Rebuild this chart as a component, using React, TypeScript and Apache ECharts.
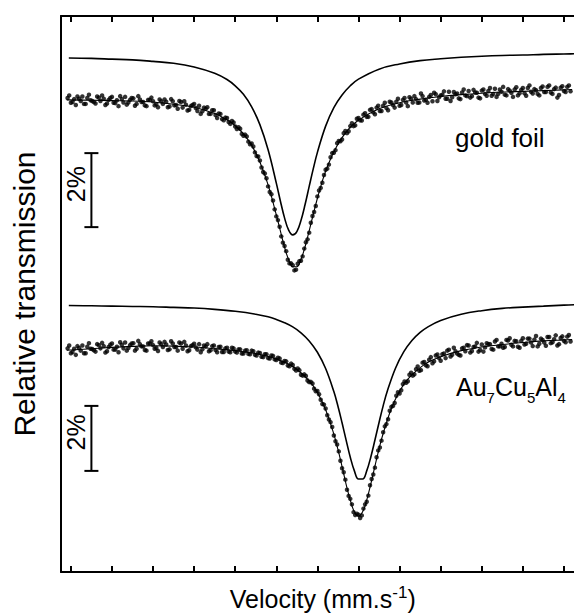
import React, { useEffect, useRef } from 'react';
import * as echarts from 'echarts';

// ---- data (velocity in mm/s, relative transmission in %) ----
// two interleaved channel sets (even / odd channels)
const VEL_START_A = -6.08;
const VEL_START_B = -6.04;
const VEL_STEP = 0.08;

const goldDotsA = [
  100.00, 99.87, 99.97, 100.04, 99.92, 99.84, 100.00, 99.94, 99.89, 100.04,
  99.92, 99.98, 99.85, 100.00, 99.87, 99.94, 100.05, 99.88, 99.82, 99.95,
  99.99, 99.84, 99.96, 99.89, 99.78, 99.95, 99.91, 99.83, 99.96, 99.84,
  99.90, 99.77, 99.91, 99.81, 99.92, 99.74, 99.82, 99.68, 99.81, 99.73,
  99.79, 99.64, 99.71, 99.57, 99.67, 99.54, 99.58, 99.43, 99.47, 99.35,
  99.38, 99.23, 99.21, 99.03, 99.01, 98.82, 98.77, 98.53, 98.42, 98.12,
  97.96, 97.61, 97.40, 96.99, 96.70, 96.26, 96.00, 95.63, 95.53, 95.34,
  95.52, 95.60, 95.93, 96.18, 96.63, 96.92, 97.34, 97.57, 97.92, 98.09,
  98.40, 98.52, 98.78, 98.83, 99.05, 99.05, 99.24, 99.24, 99.44, 99.40,
  99.55, 99.49, 99.68, 99.61, 99.74, 99.65, 99.79, 99.73, 99.90, 99.81,
  99.90, 99.79, 99.95, 99.88, 100.02, 99.88, 99.97, 99.88, 100.05, 99.95,
  100.03, 99.91, 100.10, 100.02, 100.09, 99.98, 100.17, 100.02, 100.10, 99.99,
  100.15, 100.07, 100.19, 100.05, 100.15, 100.01, 100.20, 100.11, 100.19, 100.06,
  100.25, 100.11, 100.17, 100.09, 100.24, 100.14, 100.23, 100.07, 100.22, 100.13,
  100.27, 100.17, 100.24, 100.11, 100.27, 100.16, 100.30, 100.15, 100.24, 100.01,
  100.28, 100.19, 100.30, 100.18,
];

const goldDotsB = [
  100.07, 99.89, 99.81, 99.98, 100.04, 99.84, 100.09, 99.92, 99.85, 100.01,
  100.07, 99.81, 99.95, 100.03, 99.86, 99.78, 99.97, 100.03, 99.88, 100.00,
  99.79, 100.05, 99.89, 99.80, 99.95, 100.01, 99.80, 99.75, 99.91, 99.96,
  99.75, 99.97, 99.80, 99.71, 99.89, 99.91, 99.66, 99.78, 99.84, 99.65,
  99.57, 99.74, 99.75, 99.57, 99.67, 99.46, 99.57, 99.40, 99.46, 99.30,
  99.34, 99.16, 99.17, 98.98, 98.96, 98.75, 98.69, 98.43, 98.31, 98.00,
  97.83, 97.46, 97.23, 96.80, 96.52, 96.09, 95.86, 95.53, 95.48, 95.36,
  95.59, 95.72, 96.10, 96.36, 96.81, 97.08, 97.50, 97.71, 98.06, 98.20,
  98.51, 98.59, 98.84, 98.88, 99.11, 99.10, 99.32, 99.26, 99.46, 99.39,
  99.59, 99.49, 99.70, 99.56, 99.79, 99.65, 99.87, 99.67, 99.88, 99.74,
  99.98, 99.81, 100.00, 99.78, 99.98, 100.05, 99.87, 100.12, 99.93, 99.87,
  100.08, 100.14, 99.92, 100.07, 100.18, 99.98, 99.92, 100.16, 100.12, 99.97,
  100.23, 100.05, 100.01, 100.22, 100.14, 99.99, 100.23, 100.06, 100.27, 100.11,
  100.03, 100.23, 100.30, 100.07, 100.20, 100.03, 100.29, 100.13, 100.27, 100.06,
  100.34, 100.12, 100.21, 100.07, 100.31, 100.16, 100.34, 100.11, 100.28, 100.08,
  100.32, 100.16, 100.34,
];

const alloyDotsA = [
  100.05, 99.90, 100.04, 100.12, 99.98, 99.90, 100.10, 100.04, 99.99, 100.18,
  100.05, 100.12, 99.96, 100.16, 100.01, 100.10, 100.24, 100.05, 99.98, 100.15,
  100.21, 100.04, 100.18, 100.11, 99.98, 100.20, 100.15, 100.06, 100.23, 100.09,
  100.17, 100.02, 100.20, 100.09, 100.23, 100.04, 100.14, 99.99, 100.15, 100.08,
  100.18, 100.02, 100.11, 99.96, 100.12, 100.00, 100.09, 99.94, 100.05, 99.95,
  100.07, 99.95, 100.02, 99.89, 99.98, 99.88, 99.98, 99.85, 99.92, 99.79,
  99.87, 99.75, 99.83, 99.71, 99.76, 99.61, 99.66, 99.52, 99.58, 99.42,
  99.43, 99.24, 99.25, 99.06, 99.02, 98.81, 98.74, 98.47, 98.32, 97.99,
  97.78, 97.37, 97.09, 96.59, 96.24, 95.70, 95.42, 95.01, 94.96, 94.83,
  95.12, 95.33, 95.84, 96.17, 96.70, 97.00, 97.47, 97.72, 98.13, 98.28,
  98.59, 98.66, 98.95, 98.99, 99.24, 99.21, 99.41, 99.36, 99.61, 99.53,
  99.70, 99.59, 99.83, 99.75, 99.87, 99.75, 100.01, 99.85, 99.96, 99.85,
  100.05, 99.96, 100.14, 99.97, 100.11, 99.95, 100.17, 100.08, 100.18, 100.03,
  100.26, 100.11, 100.19, 100.09, 100.29, 100.16, 100.28, 100.10, 100.28, 100.17,
  100.35, 100.23, 100.32, 100.11, 100.35, 100.23, 100.40, 100.21, 100.33, 100.14,
  100.37, 100.28, 100.41, 100.26,
];

const alloyDotsB = [
  100.14, 99.94, 99.85, 100.06, 100.14, 99.90, 100.21, 100.03, 99.95, 100.15,
  100.22, 99.92, 100.09, 100.20, 100.01, 99.93, 100.16, 100.23, 100.06, 100.20,
  99.98, 100.28, 100.11, 100.00, 100.20, 100.27, 100.04, 99.97, 100.18, 100.25,
  100.00, 100.27, 100.09, 99.98, 100.20, 100.25, 99.96, 100.12, 100.19, 100.01,
  99.93, 100.14, 100.18, 99.99, 100.14, 99.93, 100.10, 99.94, 100.07, 99.93,
  100.05, 99.92, 100.02, 99.89, 99.99, 99.87, 99.96, 99.83, 99.91, 99.78,
  99.87, 99.74, 99.82, 99.69, 99.74, 99.60, 99.65, 99.50, 99.54, 99.37,
  99.38, 99.21, 99.20, 99.01, 98.97, 98.73, 98.64, 98.34, 98.20, 97.86,
  97.63, 97.19, 96.88, 96.36, 96.01, 95.51, 95.25, 94.92, 94.93, 94.91,
  95.25, 95.52, 96.03, 96.38, 96.91, 97.21, 97.65, 97.87, 98.25, 98.37,
  98.70, 98.76, 99.03, 99.04, 99.30, 99.25, 99.49, 99.38, 99.63, 99.50,
  99.78, 99.65, 99.86, 99.67, 99.89, 99.98, 99.80, 100.07, 99.89, 99.83,
  100.07, 100.15, 99.92, 100.09, 100.22, 100.00, 99.95, 100.21, 100.18, 100.01,
  100.31, 100.11, 100.07, 100.31, 100.36, 100.11, 100.27, 100.07, 100.36, 100.19,
  100.35, 100.12, 100.43, 100.19, 100.31, 100.13, 100.40, 100.24, 100.45, 100.18,
  100.42, 100.24, 100.46,
];

const goldFitVel = [-6.1, -5.5, -5, -4.5, -4, -3.5, -3, -2.5, -2.2, -2.0, -1.8, -1.6, -1.4, -1.2, -1.0, -0.9, -0.8, -0.7, -0.6, -0.5, -0.4, -0.3, -0.2, -0.1, 0, 0.1, 0.2, 0.4, 0.6, 0.8, 1.0, 1.5, 2.0, 2.5, 3, 3.5, 4, 4.5, 5, 5.5, 6, 6.2];
const goldFitVal = [99.95, 99.94, 99.93, 99.92, 99.89, 99.83, 99.75, 99.58, 99.41, 99.25, 99.03, 98.72, 98.27, 97.65, 96.84, 96.40, 95.97, 95.63, 95.44, 95.44, 95.64, 95.98, 96.41, 96.86, 97.29, 97.68, 98.02, 98.55, 98.93, 99.21, 99.40, 99.71, 99.87, 99.97, 100.04, 100.09, 100.13, 100.16, 100.18, 100.20, 100.22, 100.23];

const goldCalcVel = [-6.05, -5.5, -5, -4.5, -4, -3.5, -3, -2.5, -2.2, -2.0, -1.8, -1.6, -1.4, -1.2, -1.0, -0.9, -0.8, -0.7, -0.6, -0.5, -0.4, -0.3, -0.2, -0.1, 0, 0.2, 0.4, 0.6, 0.8, 1.0, 1.5, 2, 2.5, 3, 3.5, 4, 4.5, 5, 5.5, 6, 6.5];
const goldCalcVal = [101.08, 101.07, 101.05, 101.03, 100.99, 100.94, 100.84, 100.67, 100.50, 100.33, 100.10, 99.76, 99.28, 98.60, 97.70, 97.21, 96.76, 96.43, 96.30, 96.39, 96.69, 97.12, 97.61, 98.09, 98.53, 99.24, 99.74, 100.08, 100.33, 100.51, 100.78, 100.92, 101.01, 101.06, 101.10, 101.13, 101.15, 101.16, 101.18, 101.19, 101.20];

const alloyFitVel = [-6.1, -5.5, -5, -4.5, -4, -3.5, -3, -2.5, -2, -1.5, -1.0, -0.6, -0.2, 0, 0.2, 0.4, 0.5, 0.6, 0.7, 0.8, 0.9, 1.0, 1.1, 1.2, 1.3, 1.4, 1.5, 1.6, 1.8, 2.0, 2.2, 2.6, 3.0, 3.5, 4, 4.5, 5, 5.5, 6, 6.2];
const alloyFitVal = [99.99, 100.04, 100.08, 100.11, 100.13, 100.12, 100.09, 100.04, 99.98, 99.89, 99.72, 99.49, 99.05, 98.69, 98.16, 97.41, 96.94, 96.41, 95.86, 95.38, 95.02, 94.89, 95.02, 95.38, 95.88, 96.43, 96.96, 97.43, 98.20, 98.73, 99.10, 99.55, 99.79, 99.98, 100.09, 100.17, 100.23, 100.28, 100.31, 100.32];

const alloyCalcVel = [-6.05, -5.5, -5, -4.5, -4, -3.5, -3, -2.5, -2, -1.5, -1.2, -1.0, -0.8, -0.6, -0.4, -0.2, 0, 0.2, 0.4, 0.5, 0.6, 0.7, 0.8, 0.9, 1.0, 1.1, 1.2, 1.3, 1.4, 1.5, 1.6, 1.7, 1.9, 2.1, 2.3, 2.5, 2.7, 3.0, 3.5, 4, 4.5, 5, 5.5, 6, 6.5];
const alloyCalcVal = [101.37, 101.36, 101.35, 101.34, 101.33, 101.31, 101.29, 101.25, 101.19, 101.10, 101.02, 100.94, 100.84, 100.71, 100.53, 100.28, 99.93, 99.43, 98.72, 98.27, 97.76, 97.22, 96.70, 96.28, 96.03, 96.03, 96.28, 96.71, 97.23, 97.77, 98.28, 98.73, 99.44, 99.94, 100.29, 100.54, 100.72, 100.91, 101.10, 101.21, 101.28, 101.32, 101.35, 101.38, 101.40];

const tickVelocities = [-6, -5, -4, -3, -2, -1, 0, 1, 2, 3, 4, 5, 6];

// scale bars: [velocity, top %, bottom %] (2 % each)
const goldScaleBar = [[-5.5, 98.51, 96.51]];
const alloyScaleBar = [[-5.5, 98.28, 96.28]];
const scaleBarLabel = '2%';

const sampleLabels = ['gold foil', 'Au', '7', 'Cu', '5', 'Al', '4'];

const FONT = "'Liberation Sans', Arial, Helvetica, sans-serif";

function zip(xs: number[], ys: number[]) {
  return xs.map((x, i) => [x, ys[i]]);
}
function channels(start: number, ys: number[]) {
  return ys.map((y, i) => [Number((start + i * VEL_STEP).toFixed(2)), y]);
}

export default function App() {
  const ref = useRef<HTMLDivElement>(null);

  useEffect(() => {
    if (!ref.current) return;
    const chart = echarts.init(ref.current, null, { renderer: 'svg' });

    const scaleBarItem = (params: any, api: any) => {
      const top = api.coord([api.value(0), api.value(1)]);
      const bot = api.coord([api.value(0), api.value(2)]);
      const x = top[0];
      const cap = 7;
      const mid = (top[1] + bot[1]) / 2;
      const st = { stroke: '#000', lineWidth: 2 };
      return {
        type: 'group',
        children: [
          { type: 'line', shape: { x1: x, y1: top[1], x2: x, y2: bot[1] }, style: st },
          { type: 'line', shape: { x1: x - cap, y1: top[1], x2: x + cap, y2: top[1] }, style: st },
          { type: 'line', shape: { x1: x - cap, y1: bot[1], x2: x + cap, y2: bot[1] }, style: st },
          {
            type: 'text',
            x: x - 15,
            y: mid - 6,
            rotation: Math.PI / 2,
            style: {
              text: scaleBarLabel,
              fontSize: 25,
              fontFamily: FONT,
              fill: '#000',
              align: 'center',
              verticalAlign: 'middle',
            },
          },
        ],
      };
    };

    const lineStyleCurve = { color: '#000', width: 1.6 };
    const lineStyleFit = { color: '#000', width: 1.1 };
    const dotStyle = { color: '#000' };

    const xBase = {
      type: 'value',
      min: -6.24,
      max: 6.5,
      axisLine: { show: true, onZero: false, lineStyle: { color: '#000', width: 2 } },
      axisTick: {
        show: true,
        inside: true,
        length: 6,
        customValues: tickVelocities,
        lineStyle: { color: '#000', width: 2 },
      },
      axisLabel: { show: false },
      splitLine: { show: false },
    };

    const dots = (yAxisIndex: number, data: number[][]) => ({
      type: 'scatter',
      yAxisIndex,
      data,
      symbol: 'circle',
      symbolSize: 4.5,
      itemStyle: dotStyle,
      z: 4,
    });
    const curve = (yAxisIndex: number, data: number[][], lineStyle: any, z: number) => ({
      type: 'line',
      yAxisIndex,
      data,
      smooth: 0.4,
      symbol: 'none',
      lineStyle,
      z,
    });

    chart.setOption({
      animation: false,
      backgroundColor: '#fff',
      grid: {
        left: 61,
        top: 16,
        right: -10.5,
        bottom: 41,
        containLabel: false,
        outerBoundsMode: 'none',
      },
      xAxis: [
        {
          ...xBase,
          position: 'bottom',
          name: '{a|Velocity (mm.s}{b|-1}{a|)}',
          nameLocation: 'middle',
          nameGap: 14,
          nameTextStyle: {
            rich: {
              a: { fontSize: 25, lineHeight: 25, fontFamily: FONT, color: '#000' },
              b: { fontSize: 17, lineHeight: 25, padding: [0, 0, 12, 0], fontFamily: FONT, color: '#000' },
            },
          },
        },
        { ...xBase, position: 'top' },
      ],
      yAxis: [
        {
          type: 'value',
          min: 87.189,
          max: 102.216,
          position: 'left',
          axisLine: { show: true, onZero: false, lineStyle: { color: '#000', width: 2 } },
          axisTick: { show: false },
          axisLabel: { show: false },
          splitLine: { show: false },
          name: 'Relative transmission',
          nameLocation: 'middle',
          nameGap: 22,
          nameTextStyle: { fontSize: 30, fontFamily: FONT, color: '#000' },
        },
        {
          type: 'value',
          min: 93.169,
          max: 110.277,
          show: false,
          splitLine: { show: false },
        },
      ],
      series: [
        curve(0, zip(goldCalcVel, goldCalcVal), lineStyleCurve, 3),
        dots(0, channels(VEL_START_A, goldDotsA)),
        dots(0, channels(VEL_START_B, goldDotsB)),
        curve(0, zip(goldFitVel, goldFitVal), lineStyleFit, 5),
        curve(1, zip(alloyCalcVel, alloyCalcVal), lineStyleCurve, 3),
        dots(1, channels(VEL_START_A, alloyDotsA)),
        dots(1, channels(VEL_START_B, alloyDotsB)),
        curve(1, zip(alloyFitVel, alloyFitVal), lineStyleFit, 5),
        {
          type: 'custom',
          yAxisIndex: 0,
          renderItem: scaleBarItem,
          data: goldScaleBar,
          encode: { x: 0, y: [1, 2] },
          clip: false,
          silent: true,
        },
        {
          type: 'custom',
          yAxisIndex: 1,
          renderItem: scaleBarItem,
          data: alloyScaleBar,
          encode: { x: 0, y: [1, 2] },
          clip: false,
          silent: true,
        },
      ],
      graphic: [
        {
          type: 'text',
          x: 455,
          y: 138,
          style: {
            text: sampleLabels[0],
            fontSize: 26,
            fontFamily: FONT,
            fill: '#000',
            align: 'left',
            verticalAlign: 'middle',
          },
        },
        {
          type: 'text',
          x: 456,
          y: 387,
          style: {
            text: `{a|${sampleLabels[1]}}{s|${sampleLabels[2]}}{a|${sampleLabels[3]}}{s|${sampleLabels[4]}}{a|${sampleLabels[5]}}{s|${sampleLabels[6]}}`,
            align: 'left',
            verticalAlign: 'middle',
            fill: '#000',
            rich: {
              a: { fontSize: 25, lineHeight: 25, fontFamily: FONT, fill: '#000' },
              s: { fontSize: 15, lineHeight: 25, padding: [21, 0, 0, 0], fontFamily: FONT, fill: '#000' },
            },
          },
        },
      ],
    });

    return () => chart.dispose();
  }, []);

  return (
    <div
      ref={ref}
      style={{ position: 'fixed', left: 0, top: 0, width: 574, height: 613, background: '#fff' }}
    />
  );
}
